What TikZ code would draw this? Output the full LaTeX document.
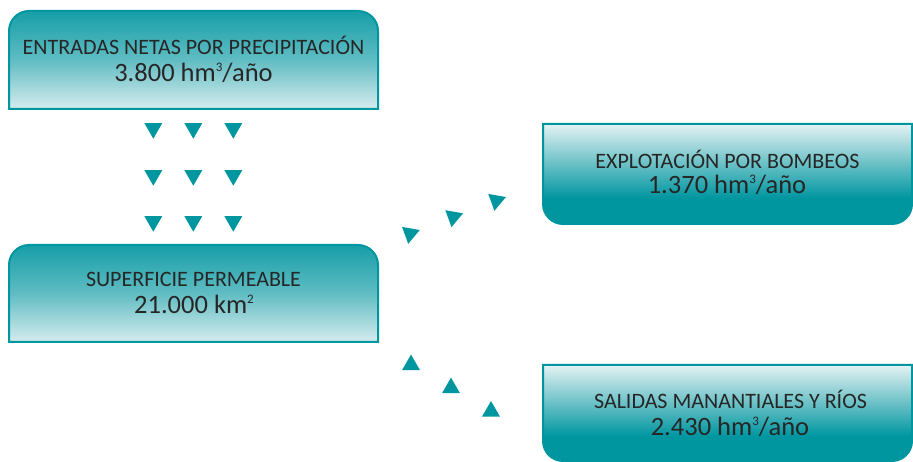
\documentclass[tikz,border=0pt]{standalone}
\usepackage{fontspec}
\setmainfont{Carlito}
\usetikzlibrary{shapes.geometric}
\definecolor{tealdark}{RGB}{0,150,160}
\definecolor{tealtop}{RGB}{22,158,168}
\definecolor{teallight}{RGB}{214,236,238}
\definecolor{tealpale}{RGB}{228,242,243}
\definecolor{txt}{RGB}{38,38,38}
\newcommand{\supnum}[1]{\raisebox{10pt}{\fontsize{13}{13}\selectfont #1}}
\pgfdeclareverticalshading{darktop}{100bp}{color(0bp)=(teallight); color(25bp)=(teallight); color(50bp)=(tealdark!55!teallight); color(75bp)=(tealtop); color(100bp)=(tealtop)}
\pgfdeclareverticalshading{darkbottom}{100bp}{color(0bp)=(tealdark); color(25bp)=(tealdark); color(38bp)=(tealdark); color(75bp)=(tealpale); color(100bp)=(tealpale)}
\tikzset{
  boxline/.style={draw=tealdark, line width=2pt},
  topbox/.style={boxline, shading=darktop},
  botbox/.style={boxline, shading=darkbottom},
  lineone/.style={anchor=base, inner sep=0pt, text=txt, font=\fontsize{22}{26}\selectfont},
  linetwo/.style={anchor=base, inner sep=0pt, text=txt, font=\fontsize{26.5}{30}\selectfont},
  tri/.style={regular polygon, regular polygon sides=3, minimum size=20.8pt, inner sep=0pt, outer sep=0pt, fill=tealdark},
  tridown/.style={tri, shape border rotate=180},
  triup/.style={tri},
  triskew/.style={tri, shape border rotate=170}
}
\begin{document}
\begin{tikzpicture}[x=1pt,y=1pt]
\useasboundingbox (0,0) rectangle (913,462);
% box 1 (top rounded)
\path[topbox] (9,353) -- (9,431) arc[start angle=180,end angle=90,radius=20] -- (358,451) arc[start angle=90,end angle=0,radius=20] -- (378,353) -- cycle;
% box 3 (top rounded)
\path[topbox] (9,120) -- (9,197) arc[start angle=180,end angle=90,radius=20] -- (358,217) arc[start angle=90,end angle=0,radius=20] -- (378,120) -- cycle;
% box 2 (bottom rounded)
\path[botbox] (543,338) -- (543,258) arc[start angle=180,end angle=270,radius=20] -- (892,238) arc[start angle=270,end angle=360,radius=20] -- (912,338) -- cycle;
% box 4 (bottom rounded)
\path[botbox] (543,97) -- (543,21) arc[start angle=180,end angle=270,radius=20] -- (892,1) arc[start angle=270,end angle=360,radius=20] -- (912,97) -- cycle;
% texts
\node[lineone] (e1) at (193.5,407.7) {ENTRADAS NETAS POR PRECIPITACIÓN};
\node[linetwo] (e2) at (193.5,380.3) {3.800 hm\supnum{3}/año};
\node[lineone] (s1) at (193.5,175.3) {SUPERFICIE PERMEABLE};
\node[linetwo] (s2) at (194,148) {21.000 km\supnum{2}};
\node[lineone] (x1) at (727.5,293.7) {EXPLOTACIÓN POR BOMBEOS};
\node[linetwo] (x2) at (727,268.7) {1.370 hm\supnum{3}/año};
\node[lineone] (m1) at (730.5,53) {SALIDAS MANANTIALES Y RÍOS};
\node[linetwo] (m2) at (730,26) {2.430 hm\supnum{3}/año};
% downward triangles
\foreach \c/\xx in {1/153.3,2/193.3,3/233.3}{
  \foreach \r/\yy in {1/333.7,2/286.7,3/240.7}{
    \node[tridown] (d\r\c) at (\xx,\yy) {};
  }
}
% skewed triangles toward pumping
\node[triskew] (k1) at (410,228.4) {};
\node[triskew] (k2) at (453.3,245.1) {};
\node[triskew] (k3) at (496.2,261.4) {};
% upward triangles toward springs
\node[triup] (u1) at (411,97) {};
\node[triup] (u2) at (451,74) {};
\node[triup] (u3) at (491,50.6) {};
\end{tikzpicture}
\end{document}
